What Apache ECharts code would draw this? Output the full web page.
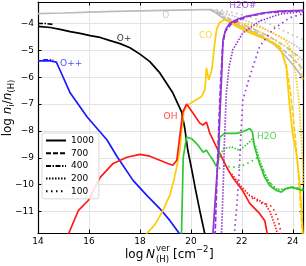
<!DOCTYPE html>
<html><head><meta charset="utf-8">
<script src="https://cdn.jsdelivr.net/npm/echarts@6/dist/echarts.min.js"></script>
<style>html,body{margin:0;padding:0;background:#fff}#c{width:306px;height:266px}</style>
</head><body><div id="c"></div>
<script>
// ---- data (log N_H^ver, log n_i/n_H) ----
const O_1000 = [[14,-3.63],[15,-3.61],[16,-3.58],[17,-3.55],[18,-3.53],[19,-3.51],[20,-3.49],[20.75,-3.48],[21.0,-3.62],[21.3,-3.83],[21.7,-4.0],[22.2,-4.22],[22.8,-4.5],[23.3,-4.8],[23.7,-5.2],[24.1,-5.65],[24.4,-6.05]];
const O_700 = [[20.75,-3.48],[21.05,-3.6],[21.4,-3.85],[22.0,-4.1],[22.7,-4.4],[23.3,-4.75],[23.9,-5.2],[24.4,-5.7]];
const O_400 = [[20.75,-3.48],[21.1,-3.58],[21.5,-3.82],[22.2,-4.1],[23.0,-4.45],[23.7,-4.85],[24.4,-5.35]];
const O_200 = [[20.8,-3.48],[21.3,-3.6],[21.9,-3.8],[22.6,-4.05],[23.3,-4.4],[23.9,-4.7],[24.4,-5.0]];
const O_100 = [[21.0,-3.48],[21.6,-3.58],[22.3,-3.75],[23.0,-3.98],[23.7,-4.3],[24.4,-4.6]];

const Op_1000 = [[14,-4.11],[14.48,-4.15],[14.87,-4.22],[15.26,-4.30],[15.65,-4.37],[16.05,-4.45],[16.44,-4.52],[16.83,-4.64],[17.22,-4.75],[17.61,-4.90],[18.0,-5.14],[18.39,-5.42],[18.78,-5.84],[19.29,-6.58],[19.64,-7.30],[19.76,-7.9],[19.88,-8.72],[20.04,-9.47],[20.19,-10.22],[20.35,-10.97],[20.55,-11.85]];
const Op_400 = [[14,-4.0],[14.3,-4.0],[14.6,-4.04]];

const Opp_1000 = [[14,-5.39],[14.48,-5.39],[14.72,-5.44],[14.87,-5.75],[15.26,-6.58],[15.93,-7.48],[16.71,-8.34],[17.10,-8.95],[17.73,-9.84],[18.27,-10.40],[18.78,-10.89],[19.18,-11.34],[19.57,-11.85]];
const Opp_400 = [[14.2,-5.35],[14.6,-5.35]];

const OH_1000 = [[15.19,-11.85],[15.58,-10.97],[15.97,-10.59],[16.44,-9.73],[16.95,-9.21],[17.49,-8.98],[18.0,-8.87],[18.39,-8.94],[18.78,-9.09],[19.10,-9.21],[19.29,-9.28],[19.45,-9.09],[19.57,-8.16],[19.68,-7.30],[19.83,-7.0],[20.08,-7.33],[20.35,-7.71],[20.47,-7.78],[20.61,-7.67],[20.74,-8.08],[21.01,-8.61],[21.21,-8.98],[21.41,-9.36],[21.64,-9.73],[22.03,-10.22],[22.31,-10.70],[22.70,-11.08],[22.90,-11.34],[23.01,-11.9]];
const OH_200 = [[21.6,-9.6],[22.0,-10.1],[22.3,-10.4],[22.6,-10.55],[22.9,-10.7],[23.1,-11.0],[23.3,-11.5],[23.4,-11.85]];
const OH_100 = [[22.4,-10.5],[22.8,-10.7],[23.1,-10.75],[23.3,-11.0],[23.45,-11.4],[23.55,-11.85]];

const CO_1000 = [[18.24,-11.85],[18.59,-11.49],[18.90,-10.97],[19.18,-10.37],[19.33,-9.84],[19.45,-9.32],[19.57,-8.72],[19.64,-7.97],[19.72,-7.30],[19.83,-7.07],[20.08,-6.91],[20.42,-6.72],[20.55,-6.47],[20.61,-5.65],[20.70,-6.10],[20.82,-5.72],[20.94,-4.71],[21.01,-4.22],[21.13,-3.96],[21.33,-3.85],[21.52,-3.93],[21.79,-4.11],[22.30,-4.34],[22.97,-4.60],[23.48,-4.86],[23.60,-5.16],[23.75,-5.65],[23.87,-7.03],[23.99,-8.08],[24.14,-8.83],[24.26,-9.84],[24.34,-10.85],[24.40,-11.85]];
const CO_700 = [[21.4,-3.9],[22.3,-4.25],[23.2,-4.7],[23.55,-5.0],[23.75,-5.6],[23.9,-6.5],[24.05,-7.8],[24.2,-9.3],[24.38,-11.85]];
const CO_200 = [[21.3,-3.85],[21.8,-3.95],[22.4,-4.05],[23.0,-4.25],[23.7,-4.6],[23.95,-5.0],[24.1,-5.8],[24.25,-7.0],[24.35,-8.5],[24.42,-10]];
const CO_100 = [[21.5,-3.9],[22.2,-4.1],[22.8,-4.35],[23.3,-4.6],[23.8,-4.9],[24.2,-5.3],[24.42,-6.2]];

const H2O_1000 = [[19.63,-11.9],[19.70,-8.98],[19.83,-8.23],[20.03,-8.29],[20.28,-8.53],[20.48,-8.79],[20.61,-8.72],[20.74,-8.91],[20.87,-9.09],[21.00,-9.32],[21.07,-9.13],[21.13,-8.23],[21.33,-8.09],[21.79,-8.09],[22.04,-8.03],[22.31,-7.91],[22.41,-8.03],[22.50,-8.60],[22.70,-9.22],[22.89,-9.72],[23.09,-10.03],[23.35,-10.22],[23.55,-10.28],[23.74,-10.15],[23.94,-10.09],[24.13,-10.15],[24.42,-10.22]];
const H2O_200 = [[21.05,-9.2],[21.15,-8.9],[21.3,-8.65],[21.6,-8.6],[21.9,-8.72],[22.2,-8.5],[22.4,-8.3],[22.55,-8.6],[22.7,-9.1],[22.9,-9.6],[23.1,-9.95],[23.4,-10.2],[23.7,-10.15],[24.0,-10.1],[24.42,-10.2]];
const H2O_100 = [[21.1,-9.4],[21.3,-9.3],[21.6,-9.35],[21.9,-9.35],[22.1,-9.25],[22.35,-9.15],[22.6,-9.0],[22.8,-9.4],[23.0,-9.8],[23.3,-10.15],[23.6,-10.2],[24.0,-10.1],[24.42,-10.15]];

const H2Os_1000 = [[20.86,-11.9],[20.98,-10.22],[21.07,-8.98],[21.13,-7.60],[21.20,-6.10],[21.23,-5.35],[21.26,-4.60],[21.37,-4.22],[21.52,-4.0],[21.80,-3.85],[22.19,-3.73],[22.81,-3.61],[23.48,-3.54],[24.42,-3.51]];
const H2Os_700 = [[20.95,-11.9],[21.05,-9.0],[21.15,-6.5],[21.25,-4.8],[21.35,-4.3],[21.6,-4.0],[22.2,-3.75],[23.0,-3.6],[24.42,-3.52]];
const H2Os_200 = [[21.2,-11.9],[21.27,-10.0],[21.32,-8.3],[21.39,-6.6],[21.5,-5.6],[21.65,-4.97],[22.04,-4.35],[22.7,-3.91],[23.5,-3.65],[24.42,-3.55]];
const H2Os_100 = [[21.7,-11.9],[21.8,-10.8],[21.9,-9.5],[21.95,-8.3],[22.04,-6.85],[22.31,-5.97],[22.7,-4.85],[23.22,-4.22],[23.87,-3.79],[24.42,-3.63]];

const labelNames = ['O','H2O#','CO','O+','O++','OH','H2O'];
const labelX = [19.02, 22.04, 20.58, 17.38, 15.30, 19.20, 22.98];
const labelY = [-3.70, -3.35, -4.45, -4.56, -5.51, -7.45, -8.22];

const densities = ['1000','700','400','200','100'];

// ---- styles ----
const COL = {O:'#bcbcbc', Op:'#000000', Opp:'#1a1aff', OH:'#ff1a1a', CO:'#ffcc00', H2O:'#33c633', H2Os:'#9333d6'};
const labelColors = [COL.O, COL.H2Os, COL.CO, COL.Op, COL.Opp, COL.OH, COL.H2O];
const DASH = {'1000':'solid','700':[5,2],'400':[5,1.5,1.5,1.5],'200':[1.5,1.5],'100':[1.5,3.5]};
const FONT = 'DejaVu Sans';

function ln(id, data, color, dens, w){
  return {type:'line', name:id, data:data, showSymbol:false, symbol:'none', silent:true,
    animation:false, lineStyle:{color:color, width:w||1.7, type:DASH[dens]}, z:2};
}
const series = [
  ln('O-1000',O_1000,COL.O,'1000'), ln('O-700',O_700,COL.O,'700'), ln('O-400',O_400,COL.O,'400'),
  ln('O-200',O_200,COL.O,'200'), ln('O-100',O_100,COL.O,'100'),
  ln('Op-1000',Op_1000,COL.Op,'1000'), ln('Op-400',Op_400,COL.Op,'400'),
  ln('Opp-1000',Opp_1000,COL.Opp,'1000'), ln('Opp-400',Opp_400,COL.Opp,'400'),
  ln('CO-1000',CO_1000,COL.CO,'1000'), ln('CO-700',CO_700,COL.CO,'700'),
  ln('CO-200',CO_200,COL.CO,'200'), ln('CO-100',CO_100,COL.CO,'100'),
  ln('OH-1000',OH_1000,COL.OH,'1000'), ln('OH-200',OH_200,COL.OH,'200'), ln('OH-100',OH_100,COL.OH,'100'),
  ln('H2O-1000',H2O_1000,COL.H2O,'1000'), ln('H2O-200',H2O_200,COL.H2O,'200'), ln('H2O-100',H2O_100,COL.H2O,'100'),
  ln('H2Os-1000',H2Os_1000,COL.H2Os,'1000'), ln('H2Os-700',H2Os_700,COL.H2Os,'700'),
  ln('H2Os-200',H2Os_200,COL.H2Os,'200'), ln('H2Os-100',H2Os_100,COL.H2Os,'100')
];
densities.forEach(d => series.push({type:'line', name:d, data:[], symbol:'none',
  lineStyle:{color:'#000', width:1.7, type:DASH[d]}, itemStyle:{color:'rgba(0,0,0,0)', borderWidth:0}}));
series.push({type:'scatter', name:'labels', symbolSize:0, silent:true, z:5,
  data: labelNames.map((n,i)=>({name:n, value:[labelX[i], labelY[i]],
    label:{color:labelColors[i]}})),
  label:{show:true, position:'inside', formatter:'{b}', fontSize:9, fontFamily:FONT}});

function fmt(v){
  if (Math.abs(v-Math.round(v))>1e-6) return '';
  v = Math.round(v);
  return v<0 ? '\u2212'+(-v) : ''+v;
}
const tickStyle = {show:true, inside:true, length:3.5, lineStyle:{color:'#000', width:1}};
const axLine = {show:true, lineStyle:{color:'#000', width:1.2}};
const split = {show:true, lineStyle:{color:'#e4e4e4', width:1}};

const chart = echarts.init(document.getElementById('c'), null, {renderer:'canvas'});
chart.setOption({
  animation:false,
  backgroundColor:'#fff',
  grid:{left:38, right:2, top:2, bottom:33, containLabel:false},
  xAxis:[
    {type:'value', min:14, max:24.4, splitNumber:5, axisLine:axLine, axisTick:tickStyle, splitLine:split,
     axisLabel:{formatter:fmt, fontSize:9, fontFamily:FONT, color:'#000', margin:4}},
    {type:'value', position:'top', min:14, max:24.4, splitNumber:5, axisLine:axLine, axisTick:tickStyle,
     splitLine:{show:false}, axisLabel:{show:false}}
  ],
  yAxis:[
    {type:'value', min:-11.8, max:-3.2, splitNumber:8, axisLine:axLine, axisTick:tickStyle, splitLine:split,
     axisLabel:{formatter:fmt, fontSize:9, fontFamily:FONT, color:'#000', margin:4}},
    {type:'value', position:'right', min:-11.8, max:-3.2, splitNumber:8, axisLine:axLine, axisTick:tickStyle,
     splitLine:{show:false}, axisLabel:{show:false}}
  ],
  legend:{data:densities, orient:'vertical', left:42, top:133, itemWidth:20, itemHeight:10, itemGap:3.7,
    padding:[3,5,3,3], backgroundColor:'rgba(255,255,255,0.85)', borderColor:'#d0d0d0', borderWidth:0.8,
    borderRadius:2, selectedMode:false, itemStyle:{opacity:0},
    textStyle:{fontSize:9, fontFamily:FONT, color:'#000'}},
  series: series,
  graphic:[
    {type:'text', left:125, top:249, style:{text:'log', font:'12px "DejaVu Sans"', fill:'#000'}},
    {type:'text', left:146, top:249, style:{text:'N', font:'italic 12px "DejaVu Sans"', fill:'#000'}},
    {type:'text', left:156, top:244, style:{text:'ver', font:'8.5px "DejaVu Sans"', fill:'#000'}},
    {type:'text', left:156, top:255, style:{text:'(H)', font:'8.5px "DejaVu Sans"', fill:'#000'}},
    {type:'text', left:173, top:249, style:{text:'[cm', font:'12px "DejaVu Sans"', fill:'#000'}},
    {type:'text', left:196, top:245, style:{text:'\u22122', font:'8.5px "DejaVu Sans"', fill:'#000'}},
    {type:'text', left:209, top:249, style:{text:']', font:'12px "DejaVu Sans"', fill:'#000'}},
    {type:'text', x:8, y:108, rotation:Math.PI/2,
     style:{text:'log {it|n}{sub|i}/{it|n}{sub|(H)}', font:'12px "DejaVu Sans"', fill:'#000',
       align:'center', verticalAlign:'middle',
       rich:{it:{fontStyle:'italic', fontSize:12, fontFamily:FONT, lineHeight:16},
             sub:{fontSize:8.5, fontFamily:FONT, verticalAlign:'bottom', lineHeight:10}}}}
  ]
});
</script></body></html>
